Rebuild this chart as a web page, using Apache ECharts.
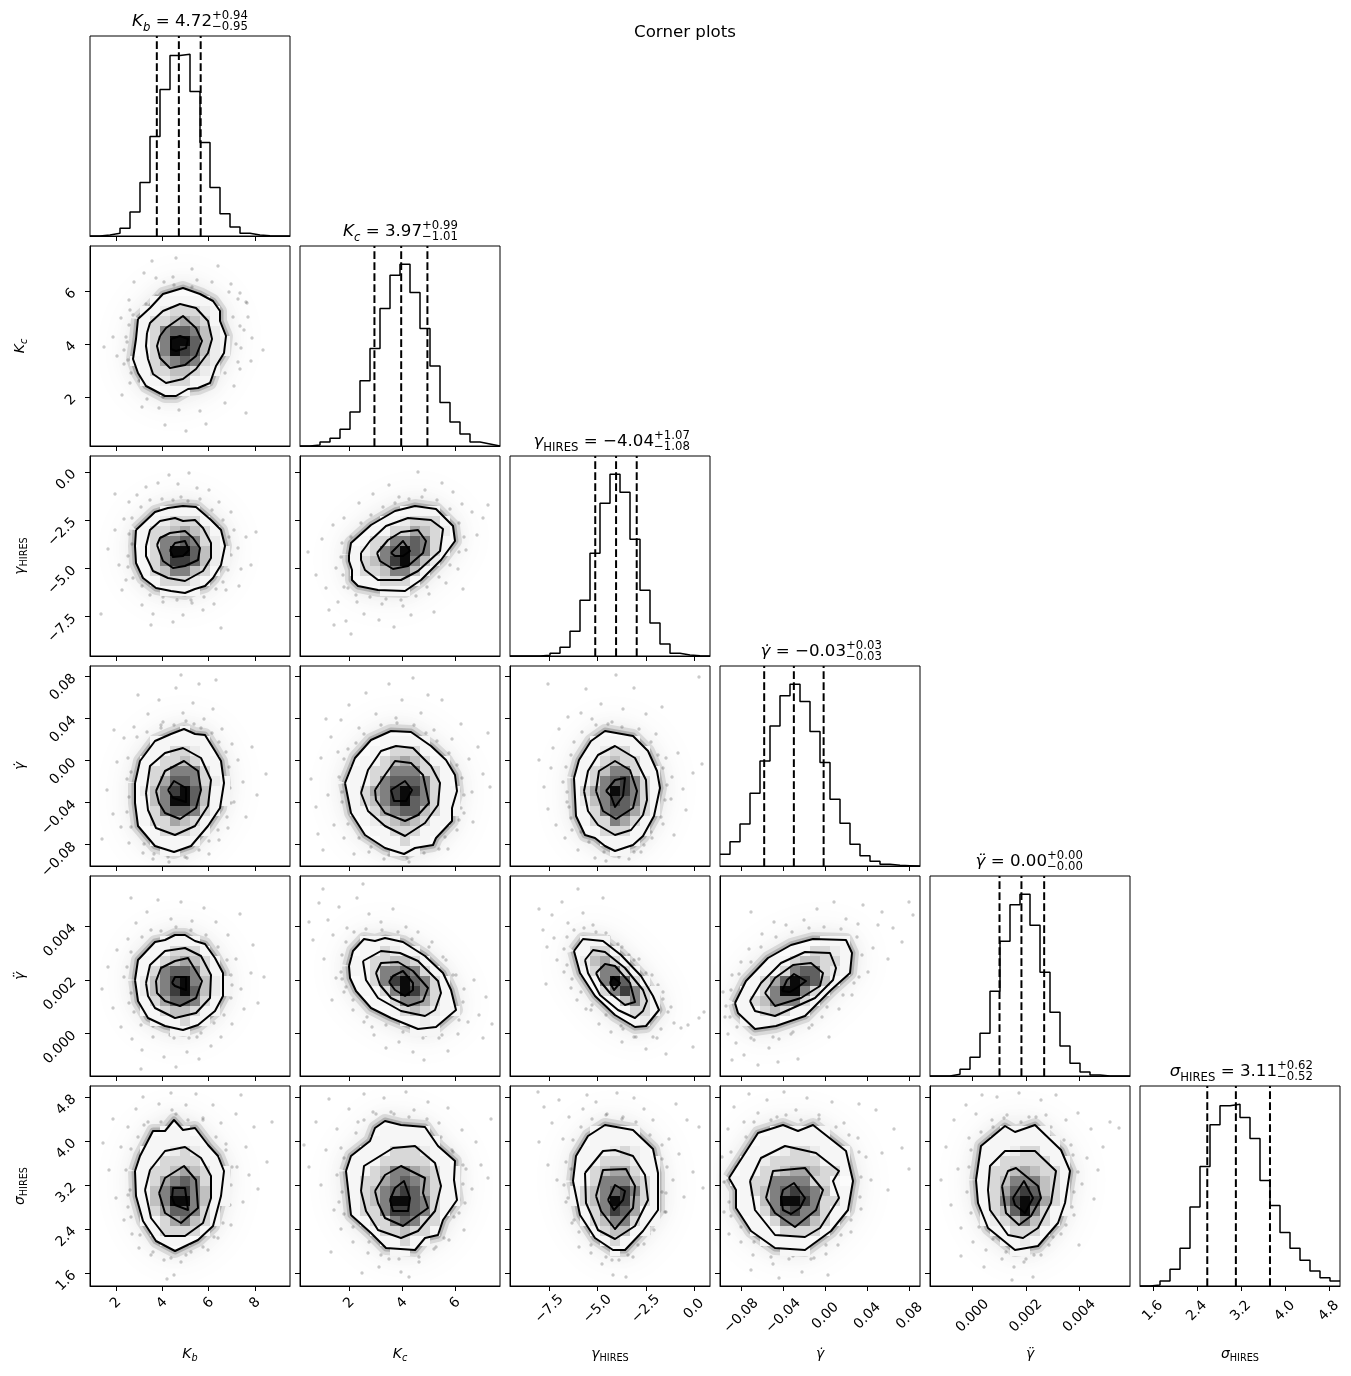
<!DOCTYPE html>
<html><head><meta charset="utf-8"><style>html,body{margin:0;background:#fff}#c{width:1351px;height:1376px}</style>
<script src="https://cdn.jsdelivr.net/npm/echarts@6/dist/echarts.min.js"></script></head><body><div id="c"></div><script>
const axisMin=[0.89,0.15,-9.54,-0.1002,-0.00159,1.367];
const axisMax=[9.51,7.70,0.83,0.0899,0.00589,5.003];
const axisTicks=[[2,4,6,8],[2,4,6],[-7.5,-5,-2.5,0],[-0.08,-0.04,0,0.04,0.08],[0,0.002,0.004],[1.6,2.4,3.2,4,4.8]];
const tickDecimals=[0,0,1,2,3,1];
const hist_Kb=[0,3,8,23,72,161,299,440,542,546,434,281,146,67,27,8,3,1,0,0];
const hist_Kc=[0,3,12,23,50,102,196,293,413,513,546,461,353,240,131,72,36,12,6,0];
const hist_gamma=[0,0,0,2,8,26,74,167,308,458,545,491,350,197,99,36,8,3,1,0];
const hist_gdot=[35,73,126,218,315,420,510,545,493,403,310,200,128,65,31,14,5,2,1,0];
const hist_gddot=[0,0,5,20,56,128,254,404,513,545,452,311,191,90,38,12,3,0,0,0];
const hist_sigma=[0,3,15,50,113,237,359,484,541,546,506,443,317,242,161,113,77,45,25,15];
const quant_Kb=[3.77,4.72,5.66],quant_Kc=[2.96,3.97,4.96],quant_gamma=[-5.12,-4.04,-2.97],quant_gdot=[-0.0582,-0.0300,-0.0017],quant_gddot=[0.00101,0.00183,0.00268],quant_sigma=[2.59,3.11,3.73];
// All panel tables below are read in histogram-bin units: (column, row from top) on the 20x20 grid of each panel.
const cont_1_0=[[4.8,7.3,6,6.2,7.3,4.8,9.3,4.2,11,4.8,12.3,5.5,13,6.5,13,7.5,13.6,9,13.4,10.7,12.6,12,12,13.7,10.8,14.2,9.8,14.3,8.6,15,7.5,15,5.6,14,4.8,12.7,4.3,11.3,4.6,9.3],[5.7,8.7,6,7.7,7.3,6.5,9,5.8,10.6,6.2,11.8,7.5,12.2,9.3,11.8,10.7,10.6,12.3,9.3,13.3,7.6,13.7,6.3,12.8,5.8,11.3,5.6,10],[7,9,7.6,8.2,9.3,7,10.6,8.2,11.2,9.5,10.6,11,9.5,11.9,8,12.2,7,11.2,6.7,10],[8.1,9.3,9,9,9.8,9.3,9.6,10.2,8.6,10.5,8.1,10.3]];
const cont_2_0=[[4.6,7.4,6.5,5.6,7.8,5.2,9.3,5,10.6,5.1,12.1,6.4,13.1,7.4,13.5,9,13.1,10.9,12.3,12.2,11.5,13,10.5,13.3,9.5,13.7,8.1,13.5,6.6,13.2,5.3,12.2,4.6,10.7,4.5,9],[5.6,9,6,7.4,7,6.5,8.5,6.2,9.3,6.5,10.5,6.4,11.3,7.2,12.1,8.7,12.1,10.2,11.3,11.5,9.5,12.5,7.8,12.2,6.3,11.5,5.6,10],[6.7,8.9,7,8.2,8,7.7,9.5,7.5,10.3,8.2,11,9.2,10.8,10.4,9.5,11,8.3,11.2,7.3,10.5],[8,9.4,8.5,8.7,9.5,8.5,9.9,9.4,9.3,10,8.3,10.1]];
const cont_2_1=[[4.9,9.9,5.1,8.7,7.1,6.9,9.5,5.5,11.5,5,13.6,5.3,15.3,7,15.5,8.5,14.1,10.4,12.1,12.4,10.5,13.5,7.8,13.4,5.8,13,5.2,12.4,5.2,11.4,4.9,10.5],[6.1,9.7,7,8.5,8.6,7,10.8,6.2,13.1,6.4,14.3,7.3,14,9.5,11.8,11.5,10.1,12.4,7.8,12.4,6.5,11.4,6.1,10.4],[7.7,9.7,8.8,8.4,10.1,7.6,11.8,7.4,12.6,8.5,12.3,9.7,10.8,11,9.3,11.3,8,10.5],[9.1,9.7,10.3,8.5,11,9.5,10.3,10,9.5,10]];
const cont_3_0=[[4.5,11.7,5,9.5,6.5,7.5,8.1,6.8,9.4,6.3,10.5,6.8,11.5,6.9,12.5,8.5,13.1,9.5,13.4,11.7,13,14.2,11.8,16,10.1,18,8.4,18.6,6.5,18,4.8,16,4.5,13.7],[5.6,12.7,6,10,7.5,8.7,9.3,8.2,11.1,9.2,12.1,11.4,11.8,14,10.5,16,8.5,16.9,6.6,16.2,5.8,14.4],[6.6,12.5,7.5,10.5,9.4,9.5,10.8,10.5,11.1,12.4,10.6,14.2,9,15.3,7.5,14.7,6.9,13.7],[7.8,12.4,8.4,11.5,9.6,12.2,9.6,13.6,8.3,13.2]];
const cont_3_1=[[4.5,11.7,5.5,9.2,7.1,7.4,9.1,6.5,11.1,6.6,13.1,8,14.6,9.4,15.5,10.9,15.7,12.5,15.2,14.2,15.2,15.5,13.6,17.2,13.3,17.9,11.5,18.2,10.4,18.8,8.5,18.2,6.5,16.9,5.1,14.7],[6.1,12.7,6.8,10.4,8.1,8.5,9.6,8,11.3,8.2,13.1,10,14,11.7,13.8,13.9,12.5,15.7,10.5,17,8.5,16,6.8,14.5],[7.5,12.4,8.5,10.9,9.5,9.5,11.1,9.7,12.3,10.9,12.9,13.7,11.8,14.9,10.5,15.5,8.5,14.7,7.6,13.4],[9.1,12.4,10.5,11.5,11.2,12.4,10.6,13.5,9.4,13.5]];
const cont_3_2=[[6.4,11.2,6.9,9.4,8.1,7.5,9.5,6.5,12.3,7,13.8,8.5,14.7,10.5,15,12.2,14.4,15,13.3,17,12.3,17.9,10.5,18.5,9.5,18,8.5,17.2,7.5,16.9,6.6,15],[7.4,12.5,7.8,10.5,8.8,8.9,10.5,8,12.5,9.2,13.6,11.4,13.7,13.4,13.3,14.9,12.1,16.4,10.5,16.9,8.8,15.9,7.8,14.5],[8.6,12.5,8.9,10.5,10.5,9.5,12,10.4,12.7,12.5,12.3,14.2,10.6,15.3,9.3,14.5],[9.6,12.5,10.5,11.4,11.5,11.2,11.3,13,10.5,14.1,10.1,13]];
const cont_4_0=[[4.5,10.4,4.8,8.4,6.5,6.6,7.5,6.4,8.5,5.9,9.5,5.9,10.5,6.5,11.5,6.8,12.5,8.2,13.3,9.7,13.3,12,12.5,13.5,10.8,14.9,9.3,15.4,7.5,15,5.8,14.2,4.8,12.5],[5.6,10.7,6,8.9,7.5,7.5,9.5,7.2,11.1,8,12.1,9.9,12,12.2,10.6,13.7,8.5,14.2,6.5,13.2,5.8,12],[6.6,10.5,7.1,9.2,8.5,8.5,9.8,8.2,11.2,10.5,10.6,12.2,9,13,7.5,12.5,6.7,11.7],[8.2,10.7,8.5,10.1,9.6,10.1,9.6,11.4,8.5,11]];
const cont_4_1=[[4.9,9,5.3,7.5,6.4,6.3,7.5,6.5,8.5,6.2,10.3,6.6,12.5,8,14.3,9.7,15.1,11.4,15.6,13.4,13.6,15.1,11.8,15.3,9.1,14.2,7.1,13.2,5.6,11.5,5,10.2],[6.3,8.5,8.1,7.5,10,7.7,11.8,8.5,13.8,10.5,14.1,11.7,13.5,13.4,12.5,14,10.1,13.5,7.8,12.2,6.6,10.4],[7.6,9.7,8.1,8.7,9.8,8.6,11.3,9.5,12.8,11.2,12.3,12.5,10.8,13,9.1,12.2,8,10.9],[8.9,10.6,9.3,10,10.3,9.5,11.3,10.7,11.3,11.4,10.5,12,9.5,11.4]];
const cont_4_2=[[6.4,7.5,7.3,6.3,9.3,6.5,11.1,7.9,13.1,10,14.3,12,14.9,13.4,13.6,15,12.5,15.1,10.5,13.9,8.5,12,7,9.7],[7.5,8.4,8.3,7.4,9.5,7.6,11.5,9.2,13.3,11.4,13.7,12.5,13.3,13.5,12.5,14.2,10.8,13.4,9,11.9,7.8,9.7],[8.6,9.7,9.5,8.8,10.5,9,12,10.7,12.5,12.6,11.5,12.9,10,11.7,9,10.5],[10,10.7,10.3,10.1,11,10.7,10.4,11.4]];
const cont_4_3=[[1.5,12.7,2.6,10.5,4.8,8.2,7.1,6.9,9.3,6.3,12.6,6.4,13.2,7.7,13,9.7,11.1,11.4,8.5,14,5.6,15,3.5,15.3,1.8,13.7],[3,12.5,4.1,10.7,6.1,8.7,8.5,7.6,11,7.7,11.6,9.2,11.3,10.4,9.5,12.2,5.5,14,3.5,13.5],[4.5,11.7,5.5,10.2,7.3,8.9,9.1,8.7,10.3,9.7,10,11,8.1,12.2,5.5,13],[6.2,11.5,6.7,10.4,7.4,9.8,8.6,10.5,7.8,11.1,7,11.6]];
const cont_5_0=[[4.5,8.5,5,7,6.3,4.5,7.5,4.5,8.4,3.4,9.3,4.4,10.5,4.2,11.8,5.9,12.8,7,13.4,8.5,13.1,11,12.3,14,10.8,15.4,8.5,16.5,6.6,15.5,5.3,13.5,4.6,11],[5.5,10.4,6,8.4,7.5,6.5,9.5,6.1,11.1,7.2,12.1,9,12.1,11.2,11.3,13.7,9.5,15,7.5,15,6.1,13.2],[6.9,10.7,7.5,9.2,9.4,8,10.6,9.4,10.8,12.2,9.1,13.7,7.5,12.7],[8.2,11.2,8.3,10.2,9.5,10.2,9.8,12.4,8.5,11.9]];
const cont_5_1=[[4.6,8.5,5.1,7,7,5.5,7.5,4.2,8.5,3.5,10.1,3.9,12.5,4.1,13.8,6,15.5,7.5,15.4,9.4,15.7,11.4,14.3,13.4,13.8,14.9,12.5,15.2,11.5,16.4,8.6,16.2,7.1,14.7,5.1,12.9],[6.1,10.5,6.4,8,9.3,6.2,11.5,6,13.5,7.7,14.1,10,13.5,12.5,11.8,14.5,10.1,15.2,7.8,14.4,6.6,12.5],[7.5,10.5,8.5,8.9,10.1,8,12.5,9.2,12.3,10.7,12.8,12.2,10.3,14,8.5,13.2,7.8,11.7],[9,11.4,9.5,10.2,10.4,9.5,11,11.2,10.8,12.5,9.3,12.5]];
const cont_5_2=[[6.3,9.5,6.6,7,7.8,5,9.5,3.9,12.3,4.4,14.3,6.3,14.8,8.7,14.8,12.4,13.3,14.5,11.5,16.4,10.3,16.4,8.5,15.2,7,12.9],[7.5,8.7,9.3,6.5,10.5,6.4,12.3,7,13.5,8.9,13.8,11.4,12.5,14,10.5,15.3,8.8,14.4,7.6,11.7],[8.6,11,9.3,8.4,11.6,8.3,12.5,10,12.3,12.2,10.5,14.3,9.1,12.5],[9.8,11.4,10.5,9.9,11.5,10.5,11.3,11.4,10.4,12.4]];
const cont_5_3=[[0.9,9.2,1.8,7.8,3.8,4.7,6.3,3.9,7.8,4.5,9.3,3.9,12.6,6.5,13.3,9.5,12.8,12.4,11.1,14.5,8.5,16.4,5.5,16.2,3.1,14.5,1.6,12.2,1.6,10.4],[3,9.5,4.1,7.2,6.5,6,9.6,6.7,11.9,8.5,11.3,9.5,11.9,11.2,10,14.2,8.5,15.1,5.5,14.9,3.5,12.4],[4.6,11.2,5.3,8.5,8.5,8.2,10.3,10.4,9.6,12.4,7.5,14.1,5.5,12.7],[6.1,11.2,6.3,10.4,7.4,9.7,8.5,11.2,8,12.2,7.1,12.8,6.3,12.4]];
const cont_5_4=[[4.6,9.4,5.1,6,7.5,4,8.5,4.6,10.5,3.9,13.1,6.4,14,8.5,13.5,11.7,12.8,13.7,10.8,16,8.5,16.4,5.8,14.2,4.8,11.7],[5.8,10.4,6,8,7.5,6.5,10.5,6.5,12.6,8.5,12.1,11.7,10.8,14.2,9.3,15.2,7.8,14.9,6,12.4],[7.2,10,7.8,8.5,8.6,8.2,10.8,10,11.1,11.2,10.1,13,8.9,13.9,7.6,12.7],[8.3,11.2,9.4,9.5,10.3,11.2,9.5,12.7,8.5,11.9]];
// 2D histogram shades: each string is "row,firstColumn:shade digits".
const cells_1_0=["5,6:111111","6,5:11233321","7,5:13345431","8,5:13677642","9,5:136997421","10,5:136987421","11,4:113567632","12,5:13344321","13,5:1123311","14,7:111"];
const cells_2_0=["5,7:1111","6,6:123331","7,5:13345431","8,5:13667632","9,5:136997421","10,5:136887421","11,5:13466431","12,6:133321","13,7:1111"];
const cells_2_1=["5,10:1111","6,8:1123331","7,7:11335432","8,6:133667631","9,5:1236797631","10,5:134689642","11,5:13346641","12,6:113331","13,8:111"];
const cells_3_0=["6,9:1","7,6:111111","8,6:113321","9,5:11334311","10,5:13366631","11,5:135776321","12,5:246897411","13,5:146997411","14,5:13677631","15,5:1335431","16,6:133321","17,6:11111","18,7:11"];
const cells_3_1=["7,8:11111","8,7:113331","9,6:113454311","10,5:1133666331","11,5:1136777631","12,5:13568986311","13,5:13468976311","14,5:11356774311","15,6:123454311","16,7:1133311","17,8:11311","18,9:111"];
const cells_3_2=["7,8:11111","8,8:123311","9,7:1134331","10,7:13466311","11,7:13678631","12,7:35698631","13,7:24687631","14,7:13677531","15,7:1336531","16,8:133311","17,9:1111","18,10:11"];
const cells_4_0=["6,7:1111","7,6:113331","8,5:11345431","9,5:13677631","10,5:246896421","11,5:246897421","12,5:13577631","13,5:11344311","14,6:111311","15,8:11"];
const cells_4_1=["6,6:1111","7,6:113211","8,5:11334431","9,5:113667631","10,6:136897631","11,6:113698631","12,7:11366531","13,9:1343211","14,10:1121","15,11:111"];
const cells_4_2=["6,7:111","7,7:1331","8,7:24531","9,7:136631","10,8:169731","11,9:368631","12,10:14631","13,11:1331","14,12:12"];
const cells_4_3=["6,10:111","7,7:113321","8,5:11344331","9,4:113677321","10,3:135798741","11,2:113699631","12,2:13466631","13,2:1134311","14,2:1112"];
const cells_5_0=["4,7:111","5,6:11111","6,5:1112321","7,5:11333311","8,5:133454311","9,5:135676311","10,5:146886411","11,5:146996411","12,5:13577631","13,5:11356431","14,6:133331","15,7:111"];
const cells_5_1=["4,8:11111","5,7:1111111","6,6:11133321","7,5:1113333311","8,5:11346654311","9,5:13356765311","10,5:13467875311","11,5:13469976311","12,5:1336887631","13,6:13367633","14,7:1334331","15,8:11311","16,9:11"];
const cells_5_2=["4,8:11111","5,8:11111","6,7:1112321","7,7:11333211","8,7:13455311","9,7:13666431","10,6:134678631","11,6:134698531","12,7:13687511","13,7:13466311","14,8:134411","15,9:131","16,10:1"];
const cells_5_3=["4,5:111111","5,4:1111111","6,3:1112332111","7,2:11233333111","8,2:11334554331","9,1:11336666331","10,2:13467876411","11,2:11469986331","12,2:11367866311","13,3:113666431","14,3:11133331","15,4:11111","16,6:111"];
const cells_5_4=["4,7:11111","5,6:1111111","6,5:11123311","7,5:113333311","8,5:133454331","9,5:134666431","10,5:135787431","11,5:136898531","12,5:134796311","13,5:12346431","14,6:113331","15,7:1121","16,8:11"];
// Samples of each panel.
const cloud_1_0=[2.3,9.1,3.1,7.2,3.4,11.8,3.9,5.4,4,13.7,4.4,3.6,3.2,14.9,2.7,11,5.4,2.7,5.2,16.1,6.6,3.2,6.2,1.5,6.9,16.2,7.5,17.9,8.3,3.1,8.6,1.2,8.9,16.4,9.6,18.5,10.2,2.3,10.7,3.4,11,16.5,11.6,17.8,12.2,3.6,12.8,2,13.5,15.7,13.9,4.6,14.3,7.1,14.6,9.8,15,12.3,14.4,14,15.6,5.6,16.2,9.2,16.1,11.5,17.3,10.4,1.4,10.1,5.7,15.3,7.3,15.1,3.7,9.6,4,6.4,14.8,5.3,15,8,15.6,16.7,7.4,3.6,8.4,3.9,10.2,4.1,6.6,5,5.6,5.8,4.3,6.9,3.9,7.9,3.6,9.1,3.4,10.4,3.8,11.4,4.1,12.7,4.9,13.5,6.1,13.9,7.9,14.2,9.1,14.3,10.6,14.1,12.1,13.2,13.5,12.7,14.8,11.6,15.1,10.2,15.4,8.4,15.8,7.1,15.7,5.7,15,4.7,14.1,3.8,13];
const cloud_2_0=[1.8,9.3,2.5,7.4,2.9,10.9,3.4,6.3,3.6,12.4,3.9,4.6,3.2,13.4,4.7,3.9,5.2,14.9,5.6,3.1,6.3,15.8,6.8,2.7,7.3,14.6,7.9,1.9,8.3,16.6,8.8,2.8,9.3,15.9,9.9,1.7,10.2,14.7,10.7,3.2,11.3,15.4,11.9,3.4,12.4,14.8,12.9,4.6,13.6,13.4,14.1,5.6,14.4,7.4,14.8,9.2,15.1,11.3,15.6,8.1,16.1,10.9,16.6,7.6,1.1,15.8,2.5,3.8,6.1,16.9,13.1,17.2,14.9,13,9.1,4.1,4.2,8.8,3.8,10,3.9,7.8,4.2,6.2,5.1,5.1,6,4.4,7.2,4.3,8.3,4.4,9.8,4.5,11,4.3,12.2,5.4,13.3,6.4,13.9,8.1,14.1,9.9,13.8,11.4,13.3,12.6,12.6,13.3,11.4,14.1,10.1,14.4,8.7,14.4,7.3,14.1,6,13.9,5.2,13,4.3,12.2,3.8,11.1];
const cloud_2_1=[0.8,9.6,1.6,11.9,2.2,8.3,2.6,13.2,2.9,15.4,3.3,6.9,3.6,11.2,3.8,14.6,4.4,6.2,4.6,16.5,5.1,17.8,5.7,14.6,5.9,4.7,6.4,15.8,7.3,3.8,7.9,16.4,8.2,14.8,8.9,2.9,9.4,17.1,9.9,4.1,10.3,15,11.1,15.9,11.8,1.6,12.5,3.4,12.9,13.8,13.4,15.6,14.2,2.7,14.6,12.7,15.3,3.6,15.8,11.3,16.2,4.8,16.6,9.4,17.2,5.6,17.7,7.9,18.3,6.2,18.8,4.9,3.4,16.9,16.3,13.3,4.2,8.7,4.1,10.1,4.3,11.9,4.4,13.1,5.1,8.1,6.1,6.7,7.1,5.9,8.3,5.1,9.5,4.7,10.9,4.3,12.2,4.1,13.7,4.4,15,5.3,15.9,6.7,16.4,8.1,15.9,9.6,15,10.9,13.9,12.1,12.7,13.1,11.6,14,10.1,14.4,8.6,14.3,7,14.1,5.6,13.9,4.8,13.2];
const cloud_3_0=[1.7,12.4,2.3,14.8,2.7,9.6,3.1,16.1,3.4,7.2,3.7,11.3,3.9,17.7,4.4,6.1,5.3,18.7,5.8,4.8,6.3,19.3,6.9,3.4,7.3,5.6,7.9,19.6,8.6,2.2,9.3,4.7,9.7,19.2,10.3,3.7,10.9,1.8,11.4,5.3,11.9,18.8,12.3,4.3,12.9,17.4,13.2,6.3,13.8,16.2,14.2,7.8,14.4,13.6,14.8,9.4,15.3,11.6,15.6,15.1,16.2,8.1,16.7,12.9,9.1,0.9,12.6,1.4,4.8,2.9,2.4,6.4,1.2,17.3,17.6,10.8,10.4,5.8,7.1,5.9,3.8,9.2,4.1,10.6,3.9,13.1,3.7,14.6,4.1,16.1,4.7,7.1,5.7,6.6,7.1,6.2,8.4,5.9,9.6,5.5,11.1,6.2,12.2,6.7,12.9,7.6,13.6,8.6,13.9,10.1,14,12.2,14.1,13.7,13.7,15.1,12.8,16.4,11.9,17.5,10.9,18.4,9.5,19.1,7.8,19.1,6.4,18.8,5.4,17.8];
const cloud_3_1=[1.1,11.3,1.6,14.1,2.1,9.2,2.8,12.9,3.1,7.1,3.4,15.9,3.8,8.6,4.1,5.4,4.4,17.2,4.9,3.9,5.4,18.8,5.9,6.2,6.6,2.7,6.9,18.6,7.6,4.8,8.4,19.3,8.9,1.8,9.6,5.2,10.2,3.4,10.9,19.6,11.3,1.2,12.1,4.7,12.8,2.9,13.4,6.4,14.2,3.4,14.8,18.3,15.2,7.3,15.7,16.4,16.1,5.8,16.4,14.7,16.9,9.3,17.2,12.6,17.8,8.1,18.3,10.8,18.8,6.7,2.6,5.3,2.3,18.4,1.8,16.8,4.2,12.6,17.3,15.6,19,12.1,3.9,11.1,4.2,13.6,4.4,9.3,4.8,8.3,5.6,7.7,6.4,6.8,8.1,5.9,9.7,5.7,11.4,5.9,12.6,6.7,13.7,7.5,14.9,8.7,15.7,9.9,16.2,11.2,16.4,12.9,16.1,14.2,15.9,15.4,14.5,17.1,13.9,18.3,12.4,18.7,10.7,19.2,8.9,18.9,7.1,18.1,5.9,17.2,4.8,15.8];
const cloud_3_2=[2.9,9.4,3.4,12.1,3.8,14.3,4.3,8.2,4.6,15.9,4.9,6.3,5.3,11.6,5.5,17.2,5.8,5.1,6.2,16.4,6.8,18.4,7.1,4.7,7.6,2.3,8.2,5.3,8.5,19.2,9.1,3.8,9.6,19.5,10.2,5.6,10.6,0.9,11.3,4.3,11.9,19.3,12.4,2.2,13.1,18.6,13.6,4.8,14.2,17.2,14.6,6.8,15.3,15.8,15.6,9.2,16.1,13.3,16.2,11.1,16.8,8.7,17.3,12.3,17.6,14.4,18.3,10.7,3.8,1.8,18.9,1.1,19.2,9.8,15.2,4.1,4.1,10.2,16.4,16.9,5.7,13.6,5.6,10.1,5.7,12.6,5.9,14.1,6.1,8.9,6.4,7.6,7.2,6.6,8.6,5.9,9.8,5.8,11.2,6.1,12.9,6.3,14.1,7.6,14.8,8.9,15.3,10.2,15.7,11.9,15.5,13.4,15.1,15.1,14.1,16.6,13.4,17.9,12.4,18.6,10.9,19.1,9.4,18.6,7.9,17.6,7.1,16.6,6.1,15.2];
const cloud_4_0=[1.2,11.3,1.8,9.1,2.3,13.2,2.7,7.4,3.1,15.1,3.4,10.1,3.8,6.3,4.2,16.3,4.6,4.7,5.2,17.4,5.7,3.6,6.3,16.1,6.8,2.4,7.4,18.1,8.1,4.3,8.6,19.1,9.1,2.6,9.7,17.6,10.2,4.5,10.9,18.3,11.4,3.2,12.1,17,12.6,4.6,13.1,16.1,13.8,5.9,14.2,14.8,14.6,8.3,15.1,11.3,15.4,13.3,16.1,9.7,16.3,6.9,16.8,12.7,17.4,10.1,4.1,2.2,15,3.8,8.4,16.2,10.7,16.1,4.1,11.7,14.2,10.9,5.1,19.3,3.7,9.1,3.9,12.7,4.1,7.6,5.2,6.1,6.1,5.4,7.1,5.5,8.6,5.1,10.1,5.4,11.6,5.9,12.8,7.1,13.7,8.4,14.1,9.9,14.1,12.2,13.4,13.9,12.4,14.7,11.1,15.7,9.9,16.2,8,15.9,6.3,15,5.1,14.9,4.4,13.6];
const cloud_4_1=[0.9,4.6,1.3,6.4,1.9,2.7,2.4,8.3,2.8,4.4,3.3,5.9,3.6,10.2,3.9,3.1,4.4,11.6,4.7,5.2,5.3,13.4,5.7,2.2,6.4,14.6,6.9,3.8,7.4,15.9,8.1,4.6,8.6,17.2,9.3,3.3,9.9,16.6,10.6,5.1,11.3,17.6,11.8,5.6,12.4,18.4,13.2,6.6,13.9,16.2,14.3,8.1,14.8,17.5,15.3,9.9,15.8,15.8,16.4,11.3,16.8,14.6,17.4,10.4,17.9,13.9,18.6,12.1,19.2,14.8,18.3,16.2,3.2,12.4,2.3,1.3,6.3,0.8,12.6,15.9,15.7,13.7,7.2,15.1,4.2,7.9,4.1,9.6,4.6,6.6,5.4,5.6,6.6,5.3,8.2,5.4,9.8,5.6,11.2,6.3,12.9,7.1,14.6,8.4,15.6,9.9,16.3,12.6,15.9,14.4,14.2,15.9,12.3,16.2,10.3,15.6,8.6,14.9,6.7,14.1,5.3,12.4,4.6,11.1,4.2,10.3];
const cloud_4_2=[2.9,3.3,3.3,5.4,3.7,7.1,4.2,3.9,4.4,6.2,4.7,8.4,5.2,2.6,5.4,9.6,5.8,4.7,6.1,11.2,6.7,12.4,7.3,3.7,7.6,13.3,8.3,4.9,8.9,14.8,9.6,5.7,10.1,15.6,10.8,6.8,11.2,16.6,11.9,7.9,12.4,16.1,12.9,8.3,13.6,17.3,14.2,9.9,14.7,16.2,15.3,11.6,15.6,17.8,16.1,13.1,16.4,14.7,17.1,15.2,17.8,14.9,18.3,17.1,18.9,14.2,19.4,13.6,6.8,1.3,3.6,10.8,9.3,2.2,14.3,13.8,11.3,15.3,8.1,13.4,5.4,7.3,5.7,6.1,6.4,5.4,7.4,5.2,8.6,5.6,9.9,6.1,11.2,7.1,12.4,8.4,13.6,9.7,14.8,10.9,15.3,12.3,15.8,13.6,15.1,15.3,14.3,16.1,12.6,16.1,11.1,15,9.6,13.9,8.2,12.9,7.1,11.6,6.2,10.3,5.7,8.9];
const cloud_4_3=[0.3,11.6,0.5,14.1,0.8,15.8,1.2,9.9,1.6,16.7,2.1,8.6,2.4,17.9,2.9,7.3,3.4,16.4,3.8,18.9,4.2,5.8,4.9,17.2,5.4,4.6,5.9,16.3,6.6,4.9,7.1,15.8,7.8,18.3,8.4,4.4,8.9,15.2,9.7,3.3,10.2,14.1,10.9,16.1,11.4,2.6,11.9,13.3,12.6,4.3,13.2,11.9,13.8,4.8,14.3,2.9,14.8,9.6,15.3,7.2,15.8,4.9,16.2,3.6,16.8,8.3,17.3,5.2,18.2,6.6,18.9,2.6,19.3,3.9,3.1,3.6,13.4,10.7,1.2,18.4,5.8,18.6,0.6,13,1.1,11.4,1.9,9.8,3.1,8.6,4.1,7.1,5.6,6.1,7.2,5.6,8.9,5.2,10.4,5.1,12.1,5.3,13.7,6.1,14.2,7.9,13.9,10.1,12.3,11.9,10.7,13.1,9.2,14.9,7.3,15.6,5.3,16.1,3.1,16.2,1.7,15.1,1,14.1];
const cloud_5_0=[1.3,5.7,1.9,8.4,2.3,3.3,2.6,11.2,3.1,6.1,3.4,13.4,3.8,4.1,4.2,14.8,4.6,2.3,4.9,16.2,5.3,1.1,5.8,3.6,6.1,16.9,6.9,1.8,7.4,17.4,8.1,0.7,8.6,2.8,9.1,17.6,9.6,1.9,10.1,16.6,10.6,0.8,11.3,3.2,11.8,16.4,12.3,1.9,12.8,15.2,13.1,3.7,13.6,5.8,14.1,13.9,14.6,2.8,15.3,11.6,15.6,6.1,15.9,8.9,16.4,4.1,16.8,10.3,17.7,7.6,18.2,3.6,8.4,18.9,7.7,19.3,14.7,8.1,4,10.4,15.1,0.9,3.6,8.4,3.8,10.9,4.1,6.3,4.8,5.1,5.4,3.9,7.1,3.6,8.2,2.4,9.8,3.4,11.3,3.4,12.6,5.1,13.6,6.4,14.2,8.1,14.1,9.9,14,11.9,13.3,13.7,12.4,15.1,11.3,16.1,9.6,16.9,8.1,17.2,6.3,16.6,5,14.9,4.1,13.1,3.8,12.1];
const cloud_5_1=[0.4,5.9,0.9,8.1,1.6,3.6,2.1,9.9,2.6,6.4,2.9,1.3,3.4,12.4,3.7,4.3,4.1,14.3,4.4,7.2,4.9,2.3,5.3,15.6,5.8,3.6,6.4,0.8,6.8,16.7,7.3,2.6,7.9,18.1,8.4,1.2,8.9,17.3,9.4,2.8,10.1,18.6,10.6,0.6,11.4,2.4,11.9,17.6,12.8,1.6,13.4,16.3,13.9,3.7,14.4,15.2,14.8,2.2,15.3,6.6,15.9,12.7,16.2,4.4,16.6,8.3,17.2,10.3,17.6,5.6,18.1,7.9,18.8,9.2,19.1,3.3,3.1,16.6,4.2,10.6,16.4,14.4,6.2,18.7,10.9,19.1,3.7,8.9,3.9,11.6,4.1,6.2,5.6,4.7,6.4,3.4,7.6,2.8,9.1,2.6,10.9,3.1,12.7,3.3,14.1,5.1,15.2,6.4,16.3,7.9,16.3,9.8,16.5,11.7,15.4,13.1,14.9,15.4,13.6,16.1,11.9,17.1,9.9,17.3,8.1,16.9,6.9,15.6,5.3,14.1,4.4,12.8];
const cloud_5_2=[2.9,5.6,3.4,2.1,3.8,7.9,4.2,3.7,4.7,9.4,4.9,1.4,5.3,5.3,5.6,11.6,5.9,3.1,6.2,13.7,6.9,16.1,7.3,2.3,7.7,0.9,8.1,16.7,8.6,1.6,9.2,17.8,9.7,2.8,10.2,17.4,10.7,0.7,11.3,3.1,11.8,16.9,12.4,1.2,12.8,15.9,13.4,2.3,13.9,14.8,14.3,3.4,15.2,7.3,15.6,12.6,15.9,5.3,16.3,9.4,16.6,1.8,16.9,6.8,17.4,11.1,17.7,3.4,18.3,8.6,18.9,4.1,19.3,10.2,11.6,19.1,10.3,18.9,6.1,8.3,15.2,10.6,2.8,0.6,5.6,7.6,5.4,9.9,5.8,11.2,6.3,5.4,7.1,4.1,8.2,3.3,9.6,2.9,11.2,3.3,12.6,3.6,14,4.9,15.2,5.9,15.7,8.1,15.6,10.7,15.5,12.6,14.4,14.4,13.4,15.8,12.3,17.1,10.9,17.4,9.6,17.1,8.1,15.9,6.9,14.6,6.4,13.4];
const cloud_5_3=[0.2,7.1,0.4,12.6,0.8,4.3,0.9,14.8,1.4,2.1,1.6,8.1,2.1,15.6,2.4,3.6,2.9,0.8,3.3,16.9,3.8,2.7,4.2,15.9,4.7,1.4,5.3,17.8,5.7,3.1,6.4,0.6,6.9,17.3,7.6,2.4,8.2,18.6,8.7,1.2,9.4,17.2,9.9,3.3,10.6,16.8,11.2,1.6,11.8,15.9,12.4,3.7,13.1,14.6,13.8,5.2,14.1,12.3,14.6,7.1,15.1,9.4,15.6,2.4,16.2,6.7,16.8,10.4,17.4,4.3,18.2,6.2,18.9,8.3,5.9,19.2,10.8,18.9,1.7,10.3,13.9,1.8,3.1,18.4,0.4,9.6,0.9,11.6,1.1,6.6,2.6,5.1,3.4,3.6,5.1,3.4,6.6,2.9,8.1,3.4,9.9,2.9,11.6,4.1,12.9,4.9,13.9,6.6,14.1,9.1,14,11.1,13.1,13.4,12.1,14.9,10.6,15.9,9.1,17.3,7.3,17,5.1,17.1,3.4,15.6,2.1,14.1,1.1,13];
const cloud_5_4=[1.1,9.4,1.6,6.1,2.1,11.9,2.4,3.4,2.8,8.3,3.1,14.2,3.6,1.9,3.9,5.2,4.3,15.6,4.6,2.8,5.2,0.9,5.6,16.4,6.2,3.4,6.7,1.1,7.2,17.3,7.7,2.9,8.4,18.1,8.9,0.7,9.4,17.6,9.9,3.1,10.4,16.9,11.1,1.4,11.6,2.9,11.9,15.9,12.6,0.9,13.1,14.8,13.6,3.4,14.1,5.9,14.4,12.9,14.8,2.7,15.2,9.8,15.7,7.2,16.1,4.3,16.4,11.3,16.8,8.4,17.3,6.1,18,3.6,18.9,4.2,8.2,19.4,10.3,19.1,3.1,17,14.9,15.9,5.4,18.1,3.9,8.1,3.7,10.6,4.1,6.4,5.1,4.6,6.3,4.1,7.4,3.2,9.1,3.6,10.6,3.1,12.1,4.1,13.4,5.4,14.3,6.9,14.8,8.6,14.4,10.6,14.2,12.1,13.6,13.9,12.3,15.1,11.1,16.9,9.6,17.3,7.6,16.6,6.3,15.3,4.9,14.1,4.1,12.7];
const shades=["","#f6f6f6","#ececec","#d8d8d8","#c0c0c0","#a6a6a6","#808080","#606060","#3c3c3c","#0a0a0a"];
const names=[["K","b","i"],["K","c","i"],["γ","HIRES","u"],["γ̇","","u"],["γ̈","","u"],["σ","HIRES","u"]];
const headline=["4.72","3.97","−4.04","−0.03","0.00","3.11"],upper=["+0.94","+0.99","+1.07","+0.03","+0.00","+0.62"],lower=["−0.95","−1.01","−1.08","−0.03","−0.00","−0.52"];
const titleRight=[212,422,654,846,1047,1277];
const hists=[hist_Kb,hist_Kc,hist_gamma,hist_gdot,hist_gddot,hist_sigma],quants=[quant_Kb,quant_Kc,quant_gamma,quant_gdot,quant_gddot,quant_sigma];
const xMargin=[17,17,23,30,30,25];
const FONT='"DejaVu Sans"';
const grid=[],xAxis=[],yAxis=[],series=[],graphic=[];
const fx=(k,c)=>axisMin[k]+c*(axisMax[k]-axisMin[k])/20;
const fy=(k,r)=>axisMax[k]-r*(axisMax[k]-axisMin[k])/20;
const fmt=k=>v=>{const t=axisTicks[k].find(a=>Math.abs(a-v)<1e-9);return (t===undefined?v:t).toFixed(tickDecimals[k]).replace('-','−');};
function axisBase(k,labelled,margin,al){return {type:'value',min:axisMin[k],max:axisMax[k],splitLine:{show:false},
 axisLine:{show:true,onZero:false,lineStyle:{color:'#000',width:1}},
 axisTick:{show:true,length:5,lineStyle:{color:'#000',width:1},customValues:axisTicks[k]},
 axisLabel:{show:labelled,customValues:axisTicks[k],rotate:45,align:al,verticalAlign:'middle',margin:margin,fontFamily:FONT,fontSize:13.9,color:'#000',formatter:fmt(k),hideOverlap:false}};}
let g=0;
for(let i=0;i<6;i++)for(let j=0;j<=i;j++){
 grid.push({left:90+210*j,top:36+210*i,width:200,height:200,show:true,borderColor:'#000',borderWidth:1,backgroundColor:'transparent'});
 xAxis.push(Object.assign(axisBase(j,i===5,xMargin[j],'center'),{gridIndex:g,position:'bottom'}));
 const base={xAxisIndex:g,yAxisIndex:g,silent:true};
 if(i===j){
  const h=hists[i],top=Math.max(...h)*1.1;
  yAxis.push({gridIndex:g,type:'value',min:0,max:top,show:false,splitLine:{show:false}});
  const pts=[];h.forEach((v,b)=>{pts.push([fx(i,b),v],[fx(i,b+1),v]);});
  series.push({...base,type:'line',data:pts,symbol:'none',lineStyle:{color:'#000',width:1.5}});
  quants[i].forEach(q=>series.push({...base,type:'line',data:[[q,0],[q,top]],symbol:'none',lineStyle:{color:'#000',width:2,type:[7.7,3.3]}}));
 } else {
  yAxis.push(Object.assign(axisBase(i,j===0,16,'right'),{gridIndex:g,position:'left'}));
  const id=i+'_'+j;
  const cl=eval('cloud_'+id),co=eval('cont_'+id),ce=eval('cells_'+id);
  const cp=[];for(let p=0;p<cl.length;p+=2)cp.push([fx(j,cl[p]),fy(i,cl[p+1])]);
  series.push({...base,type:'scatter',z:3,data:cp,symbolSize:3.4,itemStyle:{color:'rgba(0,0,0,0.26)'}});
  const poly=co.map(a=>{const o=[];for(let p=0;p<a.length;p+=2)o.push([fx(j,a[p]),fy(i,a[p+1])]);o.push(o[0]);return o;});
  series.push({...base,type:'line',z:2,data:poly[0],symbol:'none',lineStyle:{color:'rgba(0,0,0,0.1)',width:14,join:'round',shadowBlur:40,shadowColor:'rgba(0,0,0,0.8)'}});
  series.push({...base,type:'line',z:2,data:poly[0],symbol:'none',lineStyle:{color:'rgba(0,0,0,0.18)',width:7,join:'round',shadowBlur:18,shadowColor:'rgba(0,0,0,0.65)'}});
  series.push({...base,type:'custom',z:4,data:[0],renderItem:(p,api)=>({type:'polygon',shape:{points:poly[0].map(q=>api.coord(q))},style:{fill:'#fbfbfb'}})});
  const cd=[];ce.forEach(s=>{const [head,digits]=s.split(':'),[r,c0]=head.split(',').map(Number);[...digits].forEach((d,k)=>{const c=c0+k;cd.push([fx(j,c),fx(j,c+1),fy(i,r),fy(i,r+1),+d]);});});
  series.push({...base,type:'custom',z:5,data:cd,renderItem:(p,api)=>{const a=api.coord([api.value(0),api.value(2)]),b=api.coord([api.value(1),api.value(3)]);return {type:'rect',shape:{x:a[0],y:a[1],width:b[0]-a[0],height:b[1]-a[1]},style:{fill:shades[api.value(4)]}};}});
  poly.forEach(o=>series.push({...base,type:'line',z:6,data:o,symbol:'none',lineStyle:{color:'#000',width:2,join:'round'}}));
 }
 g++;
}
function rich(size){return {i:{fontFamily:FONT,fontStyle:'italic',fontSize:size,lineHeight:size*1.4,fill:'#000'},u:{fontFamily:FONT,fontSize:size,lineHeight:size*1.4,fill:'#000'},si:{fontFamily:FONT,fontStyle:'italic',fontSize:size*0.7,lineHeight:size*0.95,verticalAlign:'bottom',fill:'#000'},su:{fontFamily:FONT,fontSize:size*0.7,lineHeight:size*0.95,verticalAlign:'bottom',fill:'#000'}};}
function nameText(n){return '{i|'+n[0]+'}'+(n[1]?'{s'+n[2]+'|'+n[1]+'}':'');}
graphic.push({type:'text',x:685,y:33,style:{text:'Corner plots',font:'16.67px '+FONT,fill:'#000',align:'center',verticalAlign:'middle'}});
names.forEach((n,k)=>{
 const top=36+210*k,cx=190+210*k;
 graphic.push({type:'text',x:titleRight[k],y:top-14,style:{text:nameText(n)+'{u| = '+headline[k]+'}',rich:rich(16.67),align:'right',verticalAlign:'middle'}});
 graphic.push({type:'text',x:titleRight[k],y:top-20,style:{text:upper[k],font:'11.7px '+FONT,fill:'#000',align:'left',verticalAlign:'middle'}});
 graphic.push({type:'text',x:titleRight[k],y:top-9,style:{text:lower[k],font:'11.7px '+FONT,fill:'#000',align:'left',verticalAlign:'middle'}});
 graphic.push({type:'text',x:cx,y:1354,style:{text:nameText(n),rich:rich(13.9),align:'center',verticalAlign:'middle'}});
 if(k>0)graphic.push({type:'text',x:20,y:top+100,rotation:Math.PI/2,style:{text:nameText(n),rich:rich(13.9),align:'center',verticalAlign:'middle'}});
});
const chart=echarts.init(document.getElementById('c'),null,{renderer:'canvas'});
chart.setOption({animation:false,backgroundColor:'#fff',grid,xAxis,yAxis,series,graphic});
</script></body></html>
